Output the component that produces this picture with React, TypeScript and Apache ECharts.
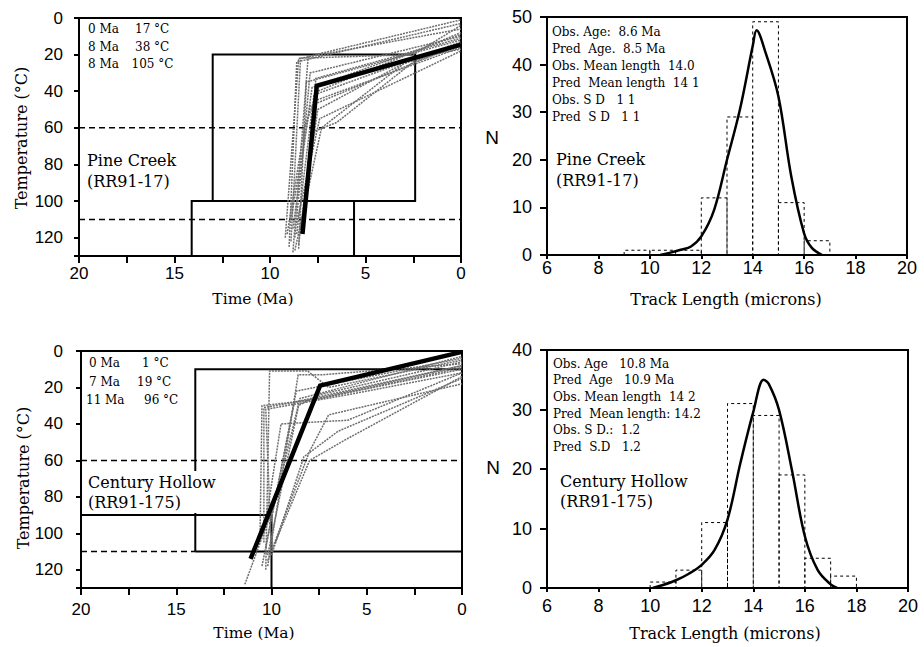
import React, { useEffect, useRef } from 'react';
import * as echarts from 'echarts';

// ---------- Data ----------
// Pine Creek (RR91-17) time-temperature history (time Ma, temperature °C)
const pcBestFit = [[8.3, 118], [7.55, 37], [0, 14.5]];
const pcPaths = [
  [[9.0, 125], [8.6, 24], [0, 3]],
  [[8.9, 122], [8.4, 22], [0, 6]],
  [[8.8, 128], [8.0, 21], [0, 1]],
  [[8.7, 120], [7.9, 30], [0, 10]],
  [[8.6, 118], [7.7, 42], [0, 13]],
  [[8.5, 124], [7.6, 45], [0, 16]],
  [[8.4, 115], [7.5, 50], [2.5, 22], [0, 17]],
  [[8.6, 112], [7.4, 55], [0, 18]],
  [[8.3, 110], [7.7, 62], [6.5, 57], [2.5, 24], [0, 15]],
  [[9.1, 118], [8.2, 60], [7.5, 40], [0, 8]],
  [[8.9, 110], [7.9, 48], [0, 14]],
  [[8.5, 126], [8.1, 35], [0, 12]],
  [[8.8, 115], [7.8, 38], [0, 9]],
  [[8.2, 112], [7.6, 33], [0, 11]],
  [[8.7, 127], [7.3, 60], [3.0, 25], [0, 14]],
  [[9.2, 120], [8.5, 22], [2.5, 20], [0, 4]],
];
const pcBoxes = [[13, 20, 2.4, 100], [14.1, 100, 5.6, 130]]; // t1, T1, t2, T2
const pcDashed = [[20, 60, 0, 60], [20, 110, 0, 110]];

// Century Hollow (RR91-175)
const chBestFit = [[11.1, 114], [7.45, 19], [0, 0.5]];
const chPaths = [
  [[10.3, 120], [10.1, 11], [8.1, 11], [7.0, 20], [0, 5]],
  [[10.2, 118], [8.6, 13], [7.3, 13], [0, 7]],
  [[10.6, 100], [10.5, 30], [8.0, 27], [0, 8]],
  [[10.4, 105], [10.4, 31], [7.0, 25], [0, 10]],
  [[10.0, 110], [10.3, 32], [6.0, 24], [0, 12]],
  [[10.2, 115], [8.0, 55], [7.0, 35], [0, 18]],
  [[10.0, 112], [8.3, 58], [6.5, 44], [0, 15]],
  [[9.8, 105], [8.0, 60], [6.0, 48], [0, 14]],
  [[10.4, 100], [9.5, 40], [6.0, 38], [0, 12]],
  [[10.1, 95], [8.6, 30], [7.5, 24], [0, 6]],
  [[11.4, 128], [9.0, 60], [7.8, 27], [0, 9]],
  [[10.3, 108], [8.7, 22], [0, 4]],
  [[10.2, 112], [8.5, 26], [0, 3]],
  [[10.5, 118], [8.8, 28], [0, 8]],
];
const chBoxes = [[14, 10, 0, 110], [20, 90, 10, 130]];
const chDashed = [[20, 60, 0, 60], [20, 110, 14, 110]];

// Track length histograms (bin edges in microns, counts)
const pcEdges = [9, 10, 11, 12, 13, 14, 15, 16, 17];
const pcCounts = [1, 1, 1, 12, 29, 49, 11, 3];
const pcCurve = [[10.4, 0], [10.8, 0.5], [11.2, 1.1], [11.6, 1.8], [12, 3.9], [12.5, 9.5], [13, 20], [13.5, 30.5], [14, 43.9], [14.15, 47.2], [14.5, 42.5], [15, 33.3], [15.5, 16.5], [16, 4.5], [16.3, 1.5], [16.7, 0]];

const chEdges = [10, 11, 12, 13, 14, 15, 16, 17, 18];
const chCounts = [1, 3, 11, 31, 29, 19, 5, 2];
const chCurve = [[10.1, 0], [10.5, 0.5], [11, 1.3], [11.5, 2.4], [12, 3.9], [12.5, 6.4], [13, 11.5], [13.5, 21], [14, 29.6], [14.4, 35], [14.6, 34.3], [15, 29.9], [15.5, 19.8], [16, 8.7], [16.5, 3], [17, 0.6], [17.25, 0]];

// Annotation texts
const pcHistory = [['0 Ma', '17 °C'], ['8 Ma', '38 °C'], ['8 Ma', '105 °C']];
const chHistory = [['0 Ma', '1 °C'], ['7 Ma', '19 °C'], ['11 Ma', '96 °C']];
const pcStats = ['Obs. Age:  8.6 Ma', 'Pred  Age.  8.5 Ma', 'Obs. Mean length  14.0', 'Pred  Mean length  14 1', 'Obs. S D   1 1', 'Pred  S D   1 1'];
const chStats = ['Obs. Age   10.8 Ma', 'Pred  Age   10.9 Ma', 'Obs. Mean length  14 2', 'Pred  Mean length: 14.2', 'Obs. S D.:  1.2', 'Pred  S.D   1.2'];

const SANS = '"Liberation Sans", Arial, sans-serif';
const SERIF = '"DejaVu Serif", "Liberation Serif", serif';

function boxToPath(b: number[]) {
  const [t1, T1, t2, T2] = b;
  return [[t1, T2], [t1, T1], [t2, T1], [t2, T2], [t1, T2]];
}

function histOutline(edges: number[], counts: number[]) {
  const pts: number[][] = [];
  counts.forEach((c, i) => {
    pts.push([edges[i], 0], [edges[i], c], [edges[i + 1], c], [edges[i + 1], 0]);
  });
  return pts;
}

function line(data: number[][], idx: number, color: string, width: number, type: any, z: number, smooth: any = false) {
  return {
    type: 'line', xAxisIndex: idx, yAxisIndex: idx, data, smooth, symbol: 'none', z,
    lineStyle: { color, width, type, cap: 'butt', join: 'miter' }, silent: true,
  };
}

function axisCommon(fontSize: number, margin: number, tickLen: number) {
  return {
    axisLine: { show: true, onZero: false, lineStyle: { color: '#000', width: 2 } },
    axisTick: { show: true, length: tickLen, lineStyle: { color: '#000', width: 2 } },
    axisLabel: { color: '#000', fontFamily: SANS, fontSize, margin },
    splitLine: { show: false },
  };
}

function txt(text: string, x: number, y: number, size: number, extra: any = {}) {
  return {
    type: 'text', x, y, z: 100,
    style: { text, fill: '#000', fontSize: size, fontFamily: SERIF, align: 'left', verticalAlign: 'middle', ...extra },
  };
}

export default function App() {
  const ref = useRef<HTMLDivElement>(null);
  useEffect(() => {
    if (!ref.current) return;
    const chart = echarts.init(ref.current, undefined, { renderer: 'svg' });
    const gridStyle = { show: true, borderColor: '#000', borderWidth: 2, backgroundColor: 'transparent' };
    const timeFmt = (v: number) => (v % 5 === 0 ? String(v) : '');
    const series: any[] = [];
    const GRAY = '#6e6e6e';

    // Panel 0: Pine Creek history
    pcPaths.forEach((p) => series.push(line(p, 0, GRAY, 1.5, [2, 1], 3)));
    pcBoxes.forEach((b) => series.push(line(boxToPath(b), 0, '#000', 2, 'solid', 2)));
    pcDashed.forEach((d) => series.push(line([[d[0], d[1]], [d[2], d[3]]], 0, '#000', 1.5, [6, 4], 2)));
    series.push(line(pcBestFit, 0, '#000', 4.5, 'solid', 5));

    // Panel 1: Pine Creek histogram
    series.push(line(histOutline(pcEdges, pcCounts), 1, '#000', 1, [3, 3], 2));
    series.push(line(pcCurve, 1, '#000', 2.5, 'solid', 4, 0.35));

    // Panel 2: Century Hollow history
    chPaths.forEach((p) => series.push(line(p, 2, GRAY, 1.5, [2, 1], 3)));
    chBoxes.forEach((b) => series.push(line(boxToPath(b), 2, '#000', 2, 'solid', 2)));
    chDashed.forEach((d) => series.push(line([[d[0], d[1]], [d[2], d[3]]], 2, '#000', 1.5, [6, 4], 2)));
    series.push(line(chBestFit, 2, '#000', 4.5, 'solid', 5));

    // Panel 3: Century Hollow histogram
    series.push(line(histOutline(chEdges, chCounts), 3, '#000', 1, [3, 3], 2));
    series.push(line(chCurve, 3, '#000', 2.5, 'solid', 4, 0.35));

    const graphic: any[] = [];
    pcHistory.forEach((r, i) => {
      graphic.push(txt(r[0], 88, 29 + i * 17.5, 12));
      graphic.push(txt(r[1], i === 2 ? 131.5 : 135, 29 + i * 17.5, 12));
    });
    chHistory.forEach((r, i) => {
      graphic.push(txt(r[0], i === 2 ? 86 : 89, 363 + i * 18.5, 12));
      graphic.push(txt(r[1], [142, 137, 144][i], 363 + i * 18.5, 12));
    });
    pcStats.forEach((s, i) => graphic.push(txt(s, 552, 31.5 + i * 17, 12)));
    chStats.forEach((s, i) => graphic.push(txt(s, 553, 363.5 + i * 16.7, 12)));
    graphic.push(txt('Pine Creek\n(RR91-17)', 87, 150, 16, { verticalAlign: 'top', lineHeight: 21 }));
    graphic.push(txt('Pine Creek\n(RR91-17)', 556, 149, 16, { verticalAlign: 'top', lineHeight: 21 }));
    graphic.push(txt('Century Hollow\n(RR91-175)', 87, 471, 16, { verticalAlign: 'top', lineHeight: 20, backgroundColor: '#fff', padding: [1, 2, 1, 1] }));
    graphic.push(txt('Century Hollow\n(RR91-175)', 560, 471, 16, { verticalAlign: 'top', lineHeight: 20 }));
    // axis titles
    graphic.push(txt('Time (Ma)', 253, 299, 15.5, { align: 'center' }));
    graphic.push(txt('Time (Ma)', 254, 633, 15.5, { align: 'center' }));
    graphic.push(txt('Track Length (microns)', 726, 299, 16, { align: 'center' }));
    graphic.push(txt('Track Length (microns)', 725, 633, 16, { align: 'center' }));
    graphic.push({ ...txt('Temperature (°C)', 21, 138, 16, { align: 'center' }), rotation: Math.PI / 2 });
    graphic.push({ ...txt('Temperature (°C)', 23, 478, 16, { align: 'center' }), rotation: Math.PI / 2 });
    graphic.push(txt('N', 492, 137, 19, { align: 'center', fontFamily: SANS }));
    graphic.push(txt('N', 493, 467, 19, { align: 'center', fontFamily: SANS }));

    chart.setOption({
      animation: false,
      backgroundColor: '#fff',
      grid: [
        { left: 79, top: 18, width: 382, height: 238, ...gridStyle },
        { left: 547, top: 17, width: 360, height: 238, ...gridStyle },
        { left: 81, top: 351, width: 381, height: 237, ...gridStyle },
        { left: 547, top: 350, width: 361, height: 238, ...gridStyle },
      ],
      xAxis: [
        { gridIndex: 0, type: 'value', min: 0, max: 20, interval: 2.5, inverse: true, ...axisCommon(17, 9, 7), axisLabel: { color: '#000', fontFamily: SANS, fontSize: 17, margin: 9, formatter: timeFmt } },
        { gridIndex: 1, type: 'value', min: 6, max: 20, interval: 2, ...axisCommon(18, 4, 4) },
        { gridIndex: 2, type: 'value', min: 0, max: 20, interval: 2.5, inverse: true, ...axisCommon(17, 13, 7), axisLabel: { color: '#000', fontFamily: SANS, fontSize: 17, margin: 13, formatter: timeFmt } },
        { gridIndex: 3, type: 'value', min: 6, max: 20, interval: 2, ...axisCommon(18, 9, 4) },
      ],
      yAxis: [
        { gridIndex: 0, type: 'value', min: 0, max: 130, interval: 20, inverse: true, ...axisCommon(17, 16, 5), axisLabel: { color: '#000', fontFamily: SANS, fontSize: 17, margin: 16, formatter: (v: number) => (v % 20 === 0 ? String(v) : '') } },
        { gridIndex: 1, type: 'value', min: 0, max: 50, interval: 10, ...axisCommon(18, 15, 7) },
        { gridIndex: 2, type: 'value', min: 0, max: 130, interval: 20, inverse: true, ...axisCommon(17, 18, 5), axisLabel: { color: '#000', fontFamily: SANS, fontSize: 17, margin: 18, formatter: (v: number) => (v % 20 === 0 ? String(v) : '') } },
        { gridIndex: 3, type: 'value', min: 0, max: 40, interval: 10, ...axisCommon(18, 15, 7) },
      ],
      series,
      graphic,
    });
    return () => chart.dispose();
  }, []);
  return <div ref={ref} style={{ position: 'fixed', left: 0, top: 0, width: 924, height: 647 }} />;
}
